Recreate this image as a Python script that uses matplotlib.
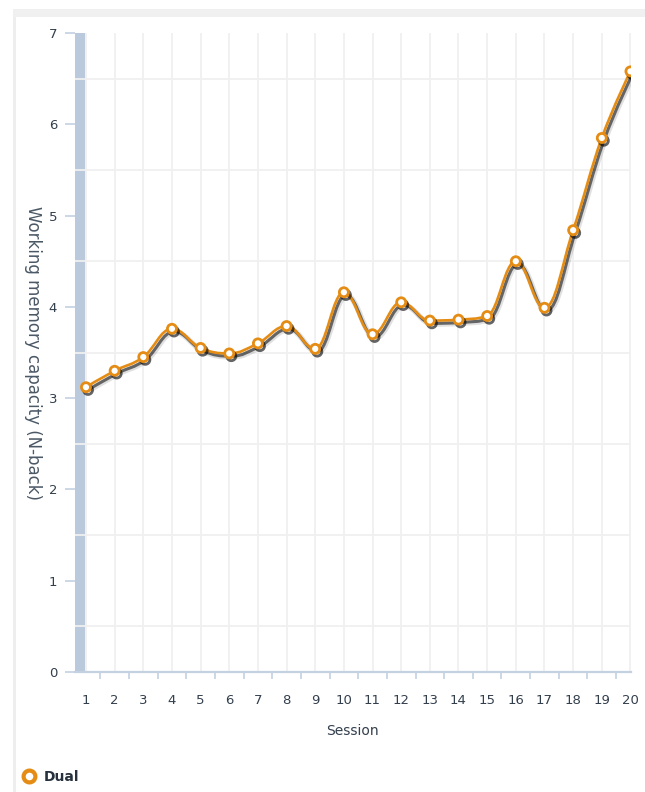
import numpy as np
import matplotlib
matplotlib.use('Agg')
import matplotlib.pyplot as plt
import matplotlib.patheffects as pe
from matplotlib.path import Path
from matplotlib.patches import PathPatch, Rectangle
from matplotlib.lines import Line2D
###############################################################################
sessions = list(range(1, 21))
dual = [3.12, 3.30, 3.45, 3.76, 3.55, 3.49, 3.60, 3.79, 3.54, 4.16,
        3.70, 4.05, 3.85, 3.86, 3.90, 4.50, 3.99, 4.84, 5.85, 6.58]
series_name = 'Dual'
x_title = 'Session'
y_title = 'Working memory capacity (N-back)'
###############################################################################
ORANGE = '#e58c14'
AXIS_BLUE = '#c3d1e1'
BAR_BLUE = '#bac9dc'
GRID = '#f0f0f0'
TEXT = '#333f4d'


def spline_path(xs, ys, smoothing=1.5):
    # bezier spline like the old web chart libraries draw it
    n = len(xs)
    left = [(xs[i], ys[i]) for i in range(n)]
    right = [(xs[i], ys[i]) for i in range(n)]
    den = smoothing + 1
    for i in range(1, n - 1):
        px, py = xs[i], ys[i]
        lx, ly = xs[i - 1], ys[i - 1]
        nx, ny = xs[i + 1], ys[i + 1]
        lcx = (smoothing * px + lx) / den
        lcy = (smoothing * py + ly) / den
        rcx = (smoothing * px + nx) / den
        rcy = (smoothing * py + ny) / den
        corr = (rcy - lcy) * (rcx - px) / (rcx - lcx) + py - rcy
        lcy += corr
        rcy += corr
        if lcy > ly and lcy > py:
            lcy = max(ly, py); rcy = 2 * py - lcy
        elif lcy < ly and lcy < py:
            lcy = min(ly, py); rcy = 2 * py - lcy
        if rcy > ny and rcy > py:
            rcy = max(ny, py); lcy = 2 * py - rcy
        elif rcy < ny and rcy < py:
            rcy = min(ny, py); lcy = 2 * py - rcy
        left[i] = (lcx, lcy)
        right[i] = (rcx, rcy)
    verts = [(xs[0], ys[0])]
    codes = [Path.MOVETO]
    for i in range(1, n):
        verts += [right[i - 1], left[i], (xs[i], ys[i])]
        codes += [Path.CURVE4] * 3
    return Path(verts, codes)


fig = plt.figure(figsize=(6.45, 7.92), dpi=100)
W, H = 645, 792
ax = fig.add_axes([74.5 / W, 1 - 672 / H, (631 - 74.5) / W, (672 - 33) / H])

# panel border
fig.add_artist(Rectangle((13 / W, 0), 3 / W, 1 - 9 / H, transform=fig.transFigure,
                         color='#eeeeee', lw=0))
fig.add_artist(Rectangle((13 / W, 1 - 17 / H), 1 - 13 / W, 8 / H, transform=fig.transFigure,
                         color='#f0f0f0', lw=0))

ax.set_xlim(0.6, 20.02)
ax.set_ylim(0, 7)

# thick y axis line
ax.axvspan(0.6, 0.95, color=BAR_BLUE, lw=0, zorder=0.3)

ax.set_xticks(sessions)
ax.set_xticks(np.arange(1.5, 20, 1), minor=True)
ax.set_yticks(range(0, 8))
ax.set_yticks(np.arange(0.5, 7, 1), minor=True)
ax.set_axisbelow(True)
ax.grid(True, axis='x', which='major', color=GRID, lw=1.3)
ax.grid(True, axis='y', which='minor', color=GRID, lw=1.3)

ax.tick_params(axis='x', which='major', length=0, pad=16, labelsize=9.5, labelcolor=TEXT)
ax.tick_params(axis='x', which='minor', length=5, width=1.2, color=AXIS_BLUE)
ax.tick_params(axis='y', which='major', length=7.5, width=1.2, color=AXIS_BLUE,
               pad=5, labelsize=9.5, labelcolor=TEXT)
ax.tick_params(axis='y', which='minor', length=0)

for s in ['top', 'right', 'left']:
    ax.spines[s].set_visible(False)
ax.spines['bottom'].set_color(AXIS_BLUE)
ax.spines['bottom'].set_linewidth(1.6)

ax.set_xlabel(x_title, fontsize=10, color=TEXT, labelpad=12)
ax.set_ylabel(y_title, fontsize=12, color='#4a5866', rotation=-90, va='center')
ax.yaxis.set_label_coords(-0.075, 0.5)

shadow = [pe.SimpleLineShadow(offset=(2, -2.5), shadow_color='black', alpha=0.12, linewidth=4),
          pe.SimpleLineShadow(offset=(1.5, -2), shadow_color='black', alpha=0.55, linewidth=2.2),
          pe.Normal()]
curve = PathPatch(spline_path(sessions, dual), fill=False, edgecolor=ORANGE, lw=1.9,
                  path_effects=shadow, zorder=3)
ax.add_patch(curve)
ax.plot(sessions, dual, linestyle='none', marker='o', ms=6.5, mfc='white', mec=ORANGE,
        mew=2, zorder=4,
        path_effects=[pe.SimpleLineShadow(offset=(1.5, -2), shadow_color='black', alpha=0.6),
                      pe.Normal()])

handle = Line2D([], [], linestyle='none', marker='o', ms=8.5, mfc='white', mec=ORANGE, mew=3)
leg = fig.legend([handle], [series_name], loc='center left', bbox_to_anchor=(8 / W, 1 - 777 / H),
                 frameon=False, handletextpad=0.5, handlelength=1.2,
                 prop={'weight': 'bold', 'size': 10})
leg.get_texts()[0].set_color('#27313d')

plt.savefig('out.png', dpi=100)
print('finished')
